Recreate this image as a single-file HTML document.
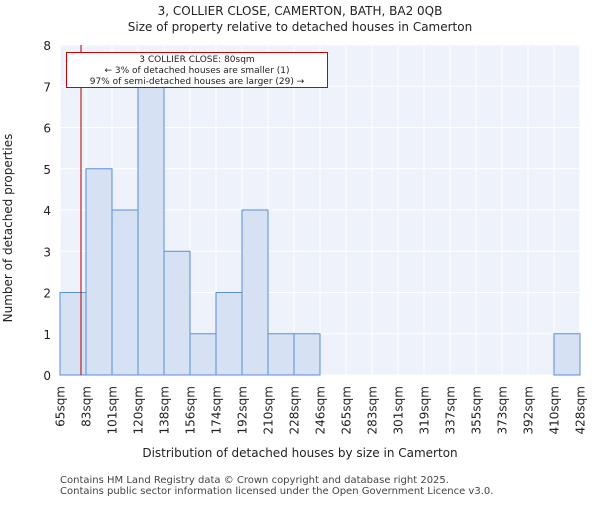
<!DOCTYPE html>
<html><head><meta charset="utf-8"><style>body{margin:0;background:#fff}svg{font-family:"DejaVu Sans","Liberation Sans",sans-serif}</style></head>
<body>
<svg id="c" width="600" height="500" xmlns="http://www.w3.org/2000/svg">
<text x="300" y="15" text-anchor="middle" font-size="12" fill="#222">3, COLLIER CLOSE, CAMERTON, BATH, BA2 0QB</text>
<text x="300" y="31" text-anchor="middle" font-size="12" fill="#222">Size of property relative to detached houses in Camerton</text>
<rect x="60" y="45" width="520" height="330" fill="#eef2fb"/>
<g id="grid"></g><g id="bars"></g><g id="axes"></g>
<line x1="81" y1="45" x2="81" y2="375" stroke="#a00" stroke-width="1"/>
<g>
<rect x="66.500" y="52.500" width="261" height="35" fill="#fff" stroke="#c00" stroke-width="1"/>
<text x="197" y="62" text-anchor="middle" font-size="9" fill="#222">3 COLLIER CLOSE: 80sqm</text>
<text x="197" y="73" text-anchor="middle" font-size="9" fill="#222">← 3% of detached houses are smaller (1)</text>
<text x="197" y="84" text-anchor="middle" font-size="9" fill="#222">97% of semi-detached houses are larger (29) →</text>
</g>
<text x="300" y="457" text-anchor="middle" font-size="12" fill="#222">Distribution of detached houses by size in Camerton</text>
<text transform="translate(12,228) rotate(-90)" text-anchor="middle" font-size="12" fill="#222">Number of detached properties</text>
<text x="60" y="483" font-size="10" fill="#444">Contains HM Land Registry data © Crown copyright and database right 2025.</text>
<text x="60" y="494" font-size="10" fill="#444">Contains public sector information licensed under the Open Government Licence v3.0.</text>
</svg>
<script>
const binLabels=["65sqm","83sqm","101sqm","120sqm","138sqm","156sqm","174sqm","192sqm","210sqm","228sqm","246sqm","265sqm","283sqm","301sqm","319sqm","337sqm","355sqm","373sqm","392sqm","410sqm","428sqm"];
const counts=[2,5,4,7,3,1,2,4,1,1,0,0,0,0,0,0,0,0,0,1];
const yTicks=[0,1,2,3,4,5,6,7,8];
const NS="http://www.w3.org/2000/svg";
const L=60,R=580,T=45,B=375,yMax=8;
const xs=i=>L+i*(R-L)/counts.length;
const ys=v=>B-v*(B-T)/yMax;
function mk(tag,attrs,parent){const e=document.createElementNS(NS,tag);for(const k in attrs)e.setAttribute(k,attrs[k]);parent.appendChild(e);return e;}
const grid=document.getElementById('grid'),bars=document.getElementById('bars'),axes=document.getElementById('axes');
yTicks.forEach(v=>{const l=mk('line',{x1:L,x2:R,y1:ys(v),y2:ys(v),stroke:'#fff','stroke-width':1},grid);


const t=mk('text',{x:L-9,y:ys(v)+5,'text-anchor':'end','font-size':12,fill:'#222'},axes);t.textContent=v;

});
binLabels.forEach((s,i)=>{const l=mk('line',{x1:xs(i),x2:xs(i),y1:T,y2:B,stroke:'#fff','stroke-width':1},grid);


const x=xs(i)+4.5;const t=mk('text',{transform:`translate(${x},386) rotate(-90)`,'text-anchor':'end','font-size':12,fill:'#222'},axes);t.textContent=s;

});
counts.forEach((v,i)=>{if(!v)return;const r=mk('rect',{x:xs(i),y:ys(v),width:xs(i+1)-xs(i),height:B-ys(v),fill:'#d6e1f3',stroke:'#5b8fd6','stroke-width':1},bars);

});
</script>
</body></html>
